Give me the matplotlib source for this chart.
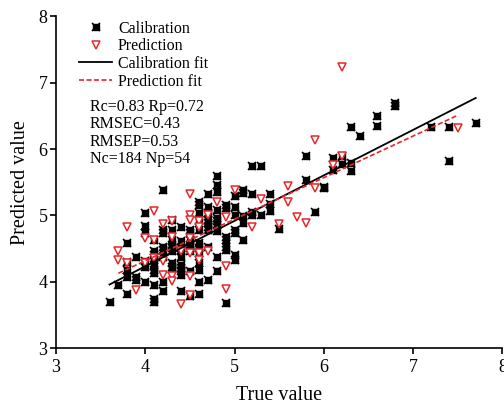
import numpy as np
import matplotlib
matplotlib.use('Agg')
import matplotlib.pyplot as plt
from matplotlib.lines import Line2D

# Calibration set (true value, predicted value)
cal_true = [3.6, 3.7, 3.8, 3.8, 3.8, 3.8, 3.8, 3.9, 3.9, 3.9,
            4.0, 4.0, 4.0, 4.0, 4.0, 4.0,
            4.1, 4.1, 4.1, 4.1, 4.1, 4.1, 4.1, 4.1, 4.1, 4.1,
            4.2, 4.2, 4.2, 4.2, 4.2, 4.2, 4.2, 4.2,
            4.3, 4.3, 4.3, 4.3, 4.3, 4.3, 4.3, 4.3, 4.3,
            4.4, 4.4, 4.4, 4.4, 4.4, 4.4, 4.4, 4.4, 4.4, 4.4,
            4.5, 4.5, 4.5, 4.5, 4.5, 4.5, 4.5, 4.5,
            4.6, 4.6, 4.6, 4.6, 4.6, 4.6, 4.6, 4.6, 4.6, 4.6, 4.6, 4.6,
            4.7, 4.7, 4.7, 4.7, 4.7, 4.7, 4.7, 4.7, 4.7,
            4.8, 4.8, 4.8, 4.8, 4.8, 4.8, 4.8, 4.8, 4.8, 4.8,
            4.9, 4.9, 4.9, 4.9, 4.9, 4.9, 4.9,
            5.0, 5.0, 5.0, 5.0, 5.0, 5.0, 5.0,
            5.1, 5.1, 5.1, 5.1, 5.1,
            5.2, 5.2, 5.2, 5.2, 5.3, 5.3,
            5.4, 5.4, 5.4, 5.5, 5.8, 5.8, 5.9, 6.0, 6.0,
            6.1, 6.1, 6.2, 6.2, 6.3, 6.3, 6.3, 6.4, 6.6, 6.6,
            6.8, 6.8, 7.2, 7.4, 7.4, 7.7]
cal_pred = [3.69, 3.96, 3.81, 4.08, 4.18, 4.30, 4.58, 4.37, 4.08, 4.03,
            5.04, 4.84, 4.73, 4.31, 4.23, 4.00,
            3.74, 3.69, 3.96, 4.13, 4.18, 4.26, 4.33, 4.41, 4.46, 4.63,
            5.39, 4.78, 4.73, 4.53, 4.48, 4.38, 4.00, 3.86,
            4.93, 4.78, 4.63, 4.56, 4.51, 4.46, 4.28, 4.23, 4.19,
            4.83, 4.61, 4.51, 4.46, 4.37, 4.26, 4.21, 4.16, 4.11, 3.87,
            4.78, 4.73, 4.63, 4.56, 4.51, 4.46, 4.16, 3.78,
            5.21, 5.16, 5.03, 4.91, 4.78, 4.58, 4.51, 4.43, 4.28, 4.18, 4.00, 3.81,
            5.33, 5.13, 5.03, 4.93, 4.88, 4.83, 4.78, 4.53, 4.03,
            5.60, 5.46, 5.36, 5.08, 4.96, 4.91, 4.86, 4.76, 4.37, 4.16,
            5.16, 5.11, 4.68, 4.63, 4.53, 4.48, 3.68,
            5.29, 5.13, 5.01, 4.78, 4.73, 4.40, 4.33,
            5.39, 5.34, 4.99, 4.89, 4.63,
            5.74, 5.32, 5.05, 5.00, 5.74, 5.01,
            5.33, 5.18, 5.06, 4.80, 5.89, 5.53, 5.05, 5.43, 5.41,
            5.87, 5.68, 5.90, 5.78, 6.33, 5.79, 5.67, 6.20, 6.49, 6.35,
            6.69, 6.65, 6.33, 6.33, 5.82, 6.39]

# Prediction set
pre_true = [3.7, 3.7, 3.8, 3.8, 3.9, 4.0, 4.0, 4.1, 4.1, 4.1,
            4.2, 4.2, 4.2, 4.3, 4.3, 4.3, 4.3, 4.4, 4.4,
            4.5, 4.5, 4.5, 4.5, 4.5, 4.5, 4.5,
            4.6, 4.6, 4.6, 4.6, 4.7, 4.7, 4.8, 4.9, 4.9, 4.9,
            5.0, 5.2, 5.3, 5.5, 5.6, 5.6, 5.7, 5.8, 5.9, 5.9,
            6.1, 6.2, 6.2, 7.5]
pre_pred = [4.46, 4.33, 4.82, 4.28, 3.88, 4.66, 4.28, 5.07, 4.63, 4.36,
            4.87, 4.31, 4.11, 4.91, 4.67, 4.09, 4.02, 4.46, 3.67,
            5.33, 5.01, 4.93, 4.66, 4.43, 4.09, 3.80,
            4.91, 4.83, 4.43, 4.33, 5.01, 4.46, 5.21, 4.97, 4.24, 3.90,
            5.38, 4.83, 5.25, 4.87, 5.44, 5.20, 4.97, 4.88, 6.14, 5.42,
            5.76, 7.23, 5.89, 6.31]

# fitted lines as drawn (slope, intercept)
cal_fit = (0.685, 1.494)
pre_fit = (0.626, 1.814)

stats_text = 'Rc=0.83 Rp=0.72\nRMSEC=0.43\nRMSEP=0.53\nNc=184 Np=54'

RED = '#e8262a'
plt.rcParams['font.family'] = ['Liberation Serif', 'DejaVu Serif']

fig = plt.figure(figsize=(5.04, 4.05), dpi=100)
ax = fig.add_axes([0.111, 0.140, 0.886, 0.820])

# calibration marker: small black square with an x on top (asterisk-like blob)
cal_style = dict(linestyle='none', marker='s', markersize=4, color='black')
cal_style2 = dict(linestyle='none', marker='x', markersize=6, markeredgewidth=1.2, color='black')
pre_style = dict(linestyle='none', marker='v', markersize=6,
                 markerfacecolor='white', markeredgecolor=RED, markeredgewidth=1.1)

ax.plot(cal_true, cal_pred, zorder=3, **cal_style)
ax.plot(cal_true, cal_pred, zorder=3, **cal_style2)
ax.plot(pre_true, pre_pred, zorder=4, **pre_style)

xc = np.array([min(cal_true), max(cal_true)])
ax.plot(xc, cal_fit[0] * xc + cal_fit[1], color='black', linewidth=1.3, zorder=5)
xp = np.array([min(pre_true), max(pre_true)])
ax.plot(xp, pre_fit[0] * xp + pre_fit[1], color=RED, linewidth=1.2,
        linestyle=(0, (3, 1.5)), zorder=5)

ax.set_xlim(3, 8)
ax.set_ylim(3, 8)
ax.set_xticks([3, 4, 5, 6, 7, 8])
ax.set_yticks([3, 4, 5, 6, 7, 8])
ax.spines['top'].set_visible(False)
ax.spines['right'].set_visible(False)
for s in ('left', 'bottom'):
    ax.spines[s].set_linewidth(1.2)
ax.tick_params(direction='out', length=4, width=1.2, labelsize=13, pad=2)
ax.tick_params(axis='x', pad=4)
ax.set_xlabel('True value', fontsize=14.5, labelpad=7)
ax.set_ylabel('Predicted value', fontsize=14.5, labelpad=6)

handles = [
    (Line2D([], [], **cal_style), Line2D([], [], **cal_style2)),
    Line2D([], [], **pre_style),
    Line2D([], [], color='black', linewidth=1.3),
    Line2D([], [], color=RED, linewidth=1.2, linestyle=(0, (3, 1.5))),
]
ax.legend(handles, ['Calibration', 'Prediction', 'Calibration fit', 'Prediction fit'],
          loc='upper left', bbox_to_anchor=(0.03, 1.015), frameon=False, fontsize=11.5,
          handlelength=2.1, handletextpad=0.35, labelspacing=0.1, borderaxespad=0.2)

ax.text(0.076, 0.752, stats_text, transform=ax.transAxes, fontsize=11.5,
        va='top', ha='left', linespacing=1.13)

fig.savefig('out.png', dpi=100)
